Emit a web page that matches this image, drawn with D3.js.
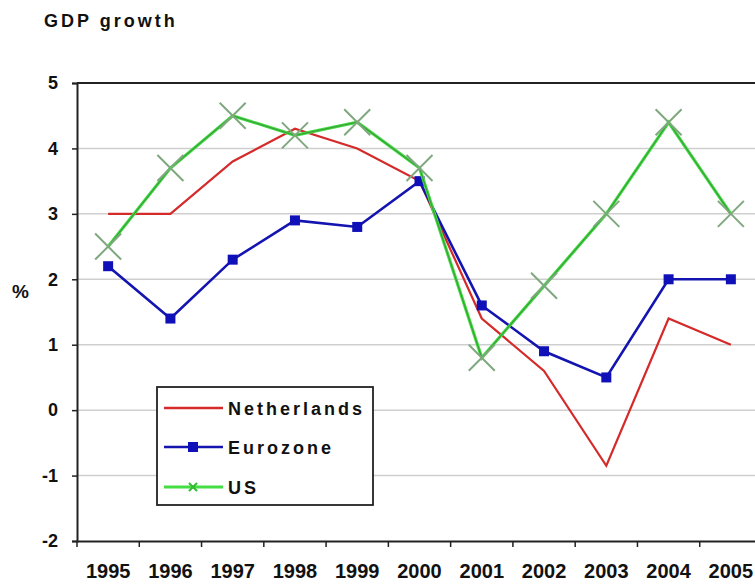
<!DOCTYPE html>
<html><head><meta charset="utf-8">
<script src="https://cdn.jsdelivr.net/npm/d3@7"></script>
<style>
html,body{margin:0;padding:0;background:#fff;}
svg{display:block;font-family:"Liberation Sans",Arial,sans-serif;}
</style></head>
<body><svg id="c" width="755" height="584"></svg>
<script>
const years = ["1995","1996","1997","1998","1999","2000","2001","2002","2003","2004","2005"];
const netherlands = [3.0,3.0,3.8,4.3,4.0,3.5,1.4,0.6,-0.85,1.4,1.0];
const eurozone = [2.2,1.4,2.3,2.9,2.8,3.5,1.6,0.9,0.5,2.0,2.0];
const us = [2.5,3.7,4.5,4.2,4.4,3.7,0.8,1.9,3.0,4.4,3.0];
const yTicks = [-2,-1,0,1,2,3,4,5];
const seriesNames = ["Netherlands","Eurozone","US"];

(function(){
const svg = d3.select("#c");
const FONT = "\"Liberation Sans\",Arial,sans-serif";
const pL = 77, pR = 762, pT = 83, pB = 541;
const x = d3.scaleBand().domain(years).range([pL, pR]);
const y = d3.scaleLinear().domain([-2,5]).range([pB, pT]);
const cx = d => x(d) + x.bandwidth()/2;

// title
svg.append("text").attr("x",44).attr("y",27).attr("font-size",18).attr("font-weight","bold")
  .attr("letter-spacing",3).attr("fill","#111").text("GDP growth");

// grid
svg.append("g").selectAll("line").data(yTicks.filter(v=>v>-2 && v<5)).join("line")
  .attr("x1",pL).attr("x2",pR).attr("y1",d=>y(d)).attr("y2",d=>y(d))
  .attr("stroke","#cfcfcf").attr("stroke-width",1.5);

// top border
svg.append("line").attr("x1",pL).attr("x2",pR).attr("y1",y(5)).attr("y2",y(5))
  .attr("stroke","#222").attr("stroke-width",2);

// y axis
const yAxis = svg.append("g").attr("transform",`translate(${pL},0)`)
  .call(d3.axisLeft(y).tickValues(yTicks).tickSize(5).tickPadding(14).tickFormat(d=>String(d)));
yAxis.select(".domain").attr("stroke","#222").attr("stroke-width",2);
yAxis.selectAll(".tick line").attr("stroke","#222").attr("stroke-width",1.5);
yAxis.selectAll("text").attr("font-size",18).attr("font-weight","bold").attr("fill","#111")
  .attr("font-family",FONT);

// x axis
const xAxis = svg.append("g").attr("transform",`translate(0,${pB})`)
  .call(d3.axisBottom(x).tickSize(0).tickPadding(23));
xAxis.select(".domain").attr("stroke","#222").attr("stroke-width",2);
xAxis.selectAll("text").attr("font-size",20).attr("font-weight","bold").attr("fill","#111")
  .attr("font-family",FONT);
svg.append("g").selectAll("line").data(years).join("line")
  .attr("x1",d=>x(d)).attr("x2",d=>x(d)).attr("y1",pB).attr("y2",pB+6)
  .attr("stroke","#222").attr("stroke-width",1.5);

// % label
svg.append("text").attr("x",12).attr("y",298).attr("font-size",19).attr("font-weight","bold")
  .attr("fill","#111").text("%");

const line = d3.line().x((d,i)=>cx(years[i])).y(d=>y(d));

// Netherlands
svg.append("path").datum(netherlands).attr("d",line).attr("fill","none")
  .attr("stroke","#d42a2a").attr("stroke-width",2.2);
// Eurozone
svg.append("path").datum(eurozone).attr("d",line).attr("fill","none")
  .attr("stroke","#1414b0").attr("stroke-width",2.6);
svg.append("g").selectAll("rect").data(eurozone).join("rect")
  .attr("x",(d,i)=>cx(years[i])-5).attr("y",d=>y(d)-5).attr("width",10).attr("height",10)
  .attr("fill","#1010b8");
// US
svg.append("path").datum(us).attr("d",line).attr("fill","none")
  .attr("stroke","#44dd44").attr("stroke-width",3.2);
svg.append("path").datum(us).attr("d",line).attr("fill","none")
  .attr("stroke","#3aa03a").attr("stroke-width",1.2);
const xm = 13;
svg.append("g").selectAll("path").data(us).join("path")
  .attr("d",(d,i)=>{const px=cx(years[i]),py=y(d);
    return `M${px-xm},${py-xm}L${px+xm},${py+xm}M${px-xm},${py+xm}L${px+xm},${py-xm}`;})
  .attr("stroke","#7fa87f").attr("stroke-width",2).attr("fill","none");

// legend
const lg = svg.append("g");
lg.append("rect").attr("x",157).attr("y",387).attr("width",216).attr("height",118)
  .attr("fill","#fff").attr("stroke","#222").attr("stroke-width",1.8);
const lgColors = ["#d42a2a","#1414b0","#44dd44"];
const lgY = [408,447,487];
seriesNames.forEach((n,i)=>{
  lg.append("line").attr("x1",164).attr("x2",223).attr("y1",lgY[i]).attr("y2",lgY[i])
    .attr("stroke",lgColors[i]).attr("stroke-width",i===2?3:2.4);
  if(i===1) lg.append("rect").attr("x",188).attr("y",lgY[i]-5).attr("width",10).attr("height",10).attr("fill","#1010b8");
  if(i===2) lg.append("path").attr("d",`M189,${lgY[i]-4}L197,${lgY[i]+4}M189,${lgY[i]+4}L197,${lgY[i]-4}`)
    .attr("stroke","#33bb33").attr("stroke-width",2);
  lg.append("text").attr("x",228).attr("y",lgY[i]+6.5).attr("font-size",18).attr("font-weight","bold")
    .attr("letter-spacing",3).attr("fill","#111").text(n);
});
})();
</script></body></html>
